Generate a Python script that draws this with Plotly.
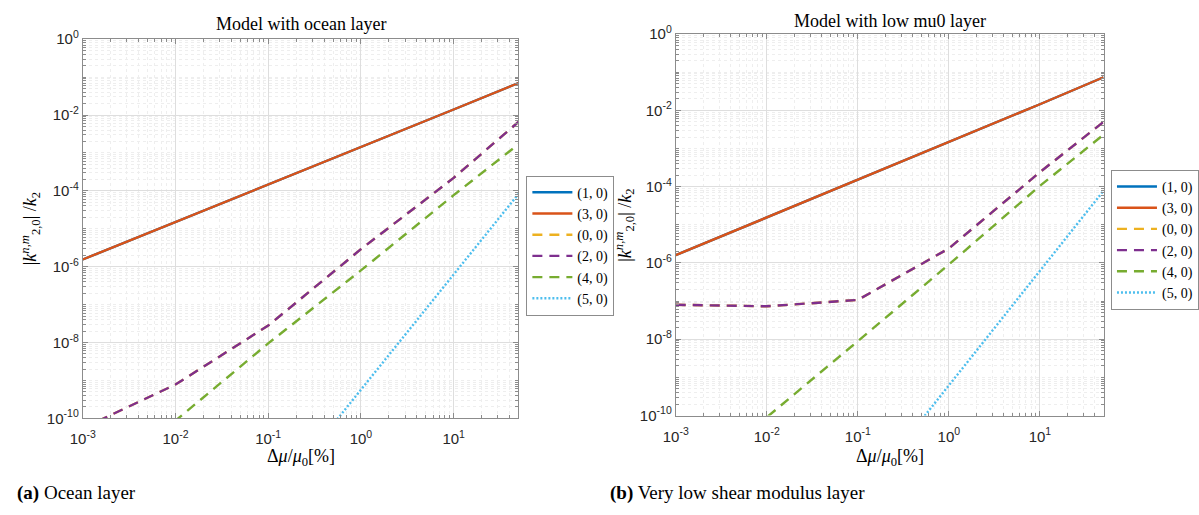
import plotly.graph_objects as go
import numpy as np

# ---------------- data ----------------
x_pct = [1e-3, 1e-2, 1e-1, 1.0, 10.0, 50.0]

series_names = ["(1, 0)", "(3, 0)", "(0, 0)", "(2, 0)", "(4, 0)", "(5, 0)"]

# Model with ocean layer
ocean_10 = [1.55e-6, 1.5e-5, 1.45e-4, 1.4e-3, 1.4e-2, 7.0e-2]
ocean_30 = [1.55e-6, 1.5e-5, 1.45e-4, 1.4e-3, 1.4e-2, 7.0e-2]
ocean_00 = [5.5e-11, 7.8e-10, 2.8e-8, 2.9e-6, 2.2e-4, 6.6e-3]
ocean_20 = [5.5e-11, 7.8e-10, 2.8e-8, 2.9e-6, 2.2e-4, 6.6e-3]
ocean_40 = [8e-13, 8.5e-11, 9.5e-9, 8e-7, 7.7e-5, 1.7e-3]
ocean_50 = [5e-19, 5e-16, 5e-13, 5.7e-10, 6.3e-7, 8.3e-5]

# Model with low mu0 layer
lowmu_10 = [1.6e-6, 1.55e-5, 1.5e-4, 1.45e-3, 1.45e-2, 7.4e-2]
lowmu_30 = [1.6e-6, 1.55e-5, 1.5e-4, 1.45e-3, 1.45e-2, 7.4e-2]
lowmu_00 = [8e-8, 7.3e-8, 1.07e-7, 2.4e-6, 2.4e-4, 5e-3]
lowmu_20 = [8e-8, 7.3e-8, 1.07e-7, 2.4e-6, 2.4e-4, 5e-3]
lowmu_40 = [1e-12, 9e-11, 8.9e-9, 9.1e-7, 1.05e-4, 2.3e-3]
lowmu_50 = [6e-19, 6e-16, 6e-13, 6e-10, 6.3e-7, 7.8e-5]

x_tickvals = [1e-3, 1e-2, 1e-1, 1, 10]
x_ticktext = ["10<sup>-3</sup>", "10<sup>-2</sup>", "10<sup>-1</sup>", "10<sup>0</sup>", "10<sup>1</sup>"]
y_tickvals = [1e-10, 1e-8, 1e-6, 1e-4, 1e-2, 1]
y_ticktext = ["10<sup>-10</sup>", "10<sup>-8</sup>", "10<sup>-6</sup>", "10<sup>-4</sup>", "10<sup>-2</sup>", "10<sup>0</sup>"]

# ---------------- styles ----------------
colors = ["#0072BD", "#D95319", "#EDB120", "#7E2F8E", "#77AC30", "#4DBEEE"]
dashes = ["solid", "solid", "10px,7px", "10px,7px", "10px,7px", "2px,2px"]
LW = 2.4

W, H = 1199, 515
fig = go.Figure()

panels = [
    dict(data=[ocean_10, ocean_30, ocean_00, ocean_20, ocean_40, ocean_50],
         xa="x", ya="y", legend="legend"),
    dict(data=[lowmu_10, lowmu_30, lowmu_00, lowmu_20, lowmu_40, lowmu_50],
         xa="x2", ya="y2", legend="legend2"),
]
for p in panels:
    for name, ys, c, d in zip(series_names, p["data"], colors, dashes):
        fig.add_trace(go.Scatter(
            x=x_pct, y=ys, mode="lines", name=name,
            line=dict(color=c, width=LW, dash=d),
            xaxis=p["xa"], yaxis=p["ya"], legend=p["legend"],
            showlegend=True,
        ))

# minor tick positions
x_minor = [m * 10.0 ** k for k in range(-3, 2) for m in range(2, 10) if m * 10.0 ** k <= 50]
y_minor = [m * 10.0 ** k for k in range(-10, 0) for m in range(1, 10)
           if not (m == 1 and k % 2 == 0)]

tickfont = dict(family="Liberation Sans, Arial, sans-serif", size=15, color="#262626")
axcol = "#8c8c8c"

def xaxis_cfg(domain, anchor):
    return dict(
        type="log", range=[-3, np.log10(50)], domain=domain, anchor=anchor,
        tickmode="array", tickvals=x_tickvals, ticktext=x_ticktext,
        tickfont=tickfont, ticks="inside", ticklen=5, tickcolor=axcol,
        ticklabelstandoff=7,
        showline=True, linecolor=axcol, linewidth=1, mirror="ticks",
        showgrid=True, gridcolor="#dedede", gridwidth=1,
        minor=dict(tickmode="array", tickvals=x_minor, ticks="inside", ticklen=3,
                   tickcolor=axcol, showgrid=True, gridcolor="#eeeeee", griddash="dot"),
        zeroline=False,
    )

def yaxis_cfg(domain, anchor):
    return dict(
        type="log", range=[-10, 0], domain=domain, anchor=anchor,
        tickmode="array", tickvals=y_tickvals, ticktext=y_ticktext,
        tickfont=tickfont, ticks="inside", ticklen=5, tickcolor=axcol,
        showline=True, linecolor=axcol, linewidth=1, mirror="ticks",
        showgrid=True, gridcolor="#dedede", gridwidth=1,
        minor=dict(tickmode="array", tickvals=y_minor, ticks="inside", ticklen=3,
                   tickcolor=axcol, showgrid=True, gridcolor="#eeeeee", griddash="dot"),
        zeroline=False,
    )

L = dict(x0=70.5, x1=511, y0=29.3, y1=423)
R = dict(x0=670, x1=1102.5, y0=24, y1=420)

def dom_x(p):
    return [p["x0"] / W, p["x1"] / W]

def dom_y(p):
    return [1 - p["y1"] / H, 1 - p["y0"] / H]

legend_common = dict(
    bgcolor="white", bordercolor="#8c8c8c", borderwidth=1,
    font=dict(family="Liberation Serif, Times New Roman, serif", size=14, color="#000"),
    itemwidth=40, tracegroupgap=0, xanchor="left", yanchor="top",
    itemclick=False, itemdoubleclick=False,
)

fig.update_layout(
    width=W, height=H,
    margin=dict(l=0, r=0, t=0, b=0),
    paper_bgcolor="white", plot_bgcolor="white",
    xaxis=xaxis_cfg(dom_x(L), "y"),
    yaxis=yaxis_cfg(dom_y(L), "x"),
    xaxis2=xaxis_cfg(dom_x(R), "y2"),
    yaxis2=yaxis_cfg(dom_y(R), "x2"),
    legend=dict(x=519 / W, y=1 - 171 / H, **legend_common),
    legend2=dict(x=1110 / W, y=1 - 165 / H, **legend_common),
)

serif = "Liberation Serif, Times New Roman, serif"

def ann(text, px, py, size, xanchor="center", angle=0):
    fig.add_annotation(
        text=text, x=px / W, y=1 - py / H, xref="paper", yref="paper",
        xanchor=xanchor, yanchor="middle", showarrow=False, textangle=angle,
        font=dict(family=serif, size=size, color="#000"),
    )

ann("Model with ocean layer", (L["x0"] + L["x1"]) / 2, 14, 18)
ann("Model with low mu0 layer", (R["x0"] + R["x1"]) / 2, 10, 18)

xlab = "Δ<i>μ</i>/<i>μ</i><sub>0</sub>[%]"
ann(xlab, (L["x0"] + L["x1"]) / 2, 464, 18)
ann(xlab, (R["x0"] + R["x1"]) / 2, 464, 18)

ylab = "|<i>k</i><sup><i>n,m</i></sup><sub>2,0</sub>| /<i>k</i><sub>2</sub>"
ann(ylab, 3, (L["y0"] + L["y1"]) / 2, 18, xanchor="left", angle=-90)
ann(ylab, 604, (R["y0"] + R["y1"]) / 2, 18, xanchor="left", angle=-90)

ann("<b>(a)</b> Ocean layer", 2, 500, 19, xanchor="left")
ann("<b>(b)</b> Very low shear modulus layer", 602, 500, 19, xanchor="left")

fig.write_html("out.html")
